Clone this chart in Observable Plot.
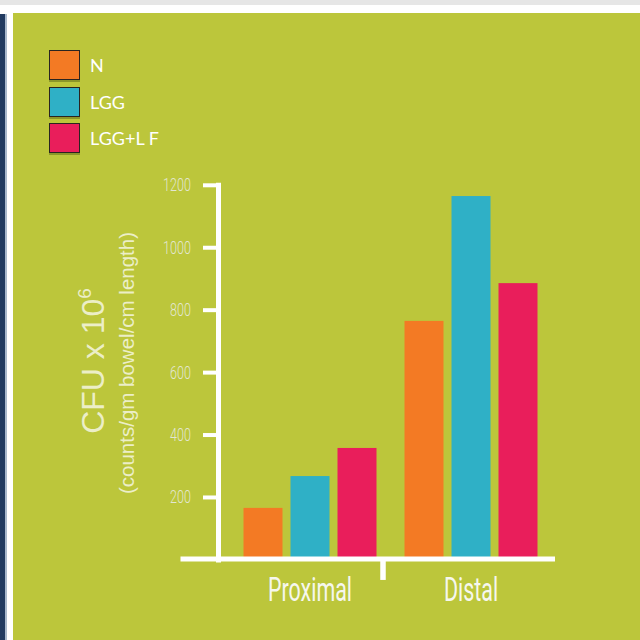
<!DOCTYPE html>
<html>
<head>
<meta charset="utf-8">
<script src="https://cdn.jsdelivr.net/npm/d3@7"></script>
<script src="https://cdn.jsdelivr.net/npm/@observablehq/plot@0.6"></script>
<style>
  html, body { margin: 0; padding: 0; background: #fff; }
  #page { position: relative; width: 640px; height: 640px; overflow: hidden; background: #fff; }
  #topstrip { position: absolute; left: 0; top: 0; width: 640px; height: 5px; background: #e6e6e6; }
  #navy { position: absolute; left: 0; top: 14px; width: 5px; bottom: 0; background: #213a60; }
  #navy2 { position: absolute; left: 5px; top: 14px; width: 2px; bottom: 0; background: #a9b8cc; }
  #panel { position: absolute; left: 13px; top: 13px; right: 0; bottom: 0; background: #bcc63b; }
  #chart { position: absolute; left: 0; top: 0; }
  #legend { position: absolute; left: 49px; top: 46.75px; font-family: Lato, "Open Sans", sans-serif; font-size: 18px; color: #fff; }
  .item { display: flex; align-items: center; height: 36.5px; }
  .sw { box-sizing: border-box; width: 31px; height: 30px; border: 1.5px solid #2a2420; box-shadow: 0 2px 0 rgba(80,90,20,0.45); }
  .lab { margin-left: 10px; line-height: 1; }
  .ytitle { position: absolute; white-space: nowrap; transform: translate(-50%, -50%) rotate(-90deg); color: rgba(255,255,255,0.72); font-family: "Liberation Sans", Arial, sans-serif; line-height: 1; }
  #t1 { left: 93px; top: 361px; font-size: 32px; }
  #t1 sup { font-size: 19px; vertical-align: 0; position: relative; top: -13px; }
  #t2 { left: 127px; top: 363px; font-size: 20.5px; }
</style>
</head>
<body>
<div id="page">
  <div id="topstrip"></div>
  <div id="navy"></div>
  <div id="navy2"></div>
  <div id="panel"></div>
  <div id="chart"></div>
  <div id="legend"></div>
  <div class="ytitle" id="t1">CFU x 10<sup>6</sup></div>
  <div class="ytitle" id="t2">(counts/gm bowel/cm length)</div>
</div>
<script>
// ---- data ----
const groups = ["Proximal", "Distal"];
const series = ["N", "LGG", "LGG+L F"];
const proximalValues = [165, 267, 357];
const distalValues = [764, 1164, 885];
const yTicks = [200, 400, 600, 800, 1000, 1200];
const palette = ["#f37a24", "#2fb0c6", "#e91e5b"];

const data = [];
series.forEach((s, i) => data.push({group: groups[0], series: s, value: proximalValues[i]}));
series.forEach((s, i) => data.push({group: groups[1], series: s, value: distalValues[i]}));

// ---- legend ----
const legend = document.getElementById("legend");
series.forEach((s, i) => {
  const item = document.createElement("div");
  item.className = "item";
  const sw = document.createElement("div");
  sw.className = "sw";
  sw.style.background = palette[i];
  const lab = document.createElement("span");
  lab.className = "lab";
  lab.textContent = s;
  item.appendChild(sw);
  item.appendChild(lab);
  legend.appendChild(item);
});

// ---- chart ----
const narrow = "Roboto, 'DejaVu Sans', sans-serif";
const chart = Plot.plot({
  width: 640,
  height: 640,
  marginTop: 184.8,
  marginBottom: 80.6,
  marginLeft: 217.5,
  marginRight: 87,
  style: {background: "transparent", overflow: "visible"},
  fx: {domain: groups, paddingInner: 0.02, paddingOuter: 0.0455, align: 0},
  x: {domain: series, paddingInner: 0.179, paddingOuter: 0.2605, align: 1, axis: null},
  y: {domain: [0, 1200]},
  color: {domain: series, range: palette},
  marks: [
    Plot.barY(data, {fx: "group", x: "series", y: "value", fill: "series"}),
    Plot.frame({anchor: "left", facetAnchor: "left", stroke: "white", strokeWidth: 5}),
    Plot.frame({anchor: "left", facetAnchor: "right", stroke: "white", strokeWidth: 5.5, insetTop: 374.6, insetBottom: -17.3, dx: 3.5}),
    Plot.frame({anchor: "bottom", facet: "super", stroke: "white", strokeWidth: 5, insetLeft: -35.5, insetRight: -15, dy: -1}),
    Plot.axisY({ticks: yTicks, tickFormat: (d) => String(d), tickSize: 15, tickPadding: 12.5, color: "white", fill: "#e3e6d2", strokeWidth: 4, fontSize: 18.5, fontWeight: 300, fontFamily: narrow, label: null}),
    Plot.axisFx({anchor: "bottom", tickSize: 0, tickPadding: 17, fontSize: 33.5, fontWeight: 400, fontFamily: narrow, fill: "#f6f7ee", label: null, dx: 12.5})
  ]
});
document.getElementById("chart").appendChild(chart);

// condensed look of the tick labels (horizontal squeeze around each label's anchor)
function squeeze(selector, k) {
  d3.select(chart).selectAll(selector).each(function () {
    const t = this.getAttribute("transform") || "";
    this.setAttribute("transform", t + ` scale(${k},1)`);
    const x = this.getAttribute("x");
    if (x != null) this.setAttribute("x", +x / k);
  });
}
squeeze('g[aria-label="y-axis tick label"] text', 0.68);
squeeze('g[aria-label="fx-axis tick label"] text', 0.64);
</script>
</body>
</html>
